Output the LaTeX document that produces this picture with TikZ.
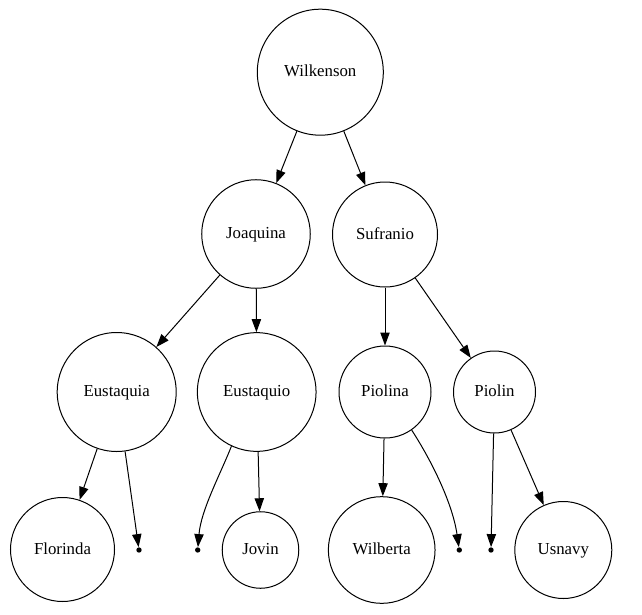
\documentclass[tikz,border=0pt]{standalone}
\usepackage{fontspec}
\setmainfont{Liberation Serif}
\usetikzlibrary{arrows.meta}
\begin{document}
\begin{tikzpicture}[x=0.75pt,y=-0.75pt,
  circ/.style={circle,draw,line width=0.75pt,inner sep=0pt,text height=8.6pt,text depth=1.8pt,font=\fontsize{12.6}{15}\selectfont},
  pt/.style={circle,fill=black,inner sep=0pt,minimum size=4pt},
  edge/.style={line width=0.75pt,-{Triangle[length=9.75pt,width=7pt]}}]
\useasboundingbox (0,0) rectangle (642,614);
\node[circ,minimum size=94.5pt] (W) at (320.3,72.2) {Wilkenson};
\node[circ,minimum size=81.4pt] (J) at (256,234) {Joaquina};
\node[circ,minimum size=78.75pt] (S) at (385,234.5) {Sufranio};
\node[circ,minimum size=89.25pt] (Ea) at (116.7,392) {Eustaquia};
\node[circ,minimum size=89pt] (Eo) at (256.7,392) {Eustaquio};
\node[circ,minimum size=69pt] (Pa) at (385,392) {Piolina};
\node[circ,minimum size=61.5pt] (Pn) at (494.5,392) {Piolin};
\node[circ,minimum size=78pt] (F) at (62.5,549.5) {Florinda};
\node[pt] (d1) at (139,550) {};
\node[pt] (d2) at (197.7,550) {};
\node[circ,minimum size=57.4pt] (Jo) at (260.5,550) {Jovin};
\node[circ,minimum size=80pt] (Wb) at (381.7,550) {Wilberta};
\node[pt] (d3) at (459.3,550) {};
\node[pt] (d4) at (491,550) {};
\node[circ,minimum size=72.75pt] (U) at (563.3,550) {Usnavy};
\draw[edge] (W) -- (J);
\draw[edge] (W) -- (S);
\draw[edge] (J) -- (Ea);
\draw[edge] (J) -- (Eo);
\draw[edge] (S) -- (Pa);
\draw[edge] (S) -- (Pn);
\draw[edge] (Ea) -- (F);
\draw[edge] (Ea) -- (d1);
\draw[edge] (Eo.-115) .. controls (220,475) and (201,510) .. (d2);
\draw[edge] (Eo) -- (Jo);
\draw[edge] (Pa) -- (Wb);
\draw[edge] (Pa.-55) .. controls (428,455) and (452,500) .. (d3);
\draw[edge] (Pn) -- (d4);
\draw[edge] (Pn) -- (U);
\end{tikzpicture}
\end{document}
